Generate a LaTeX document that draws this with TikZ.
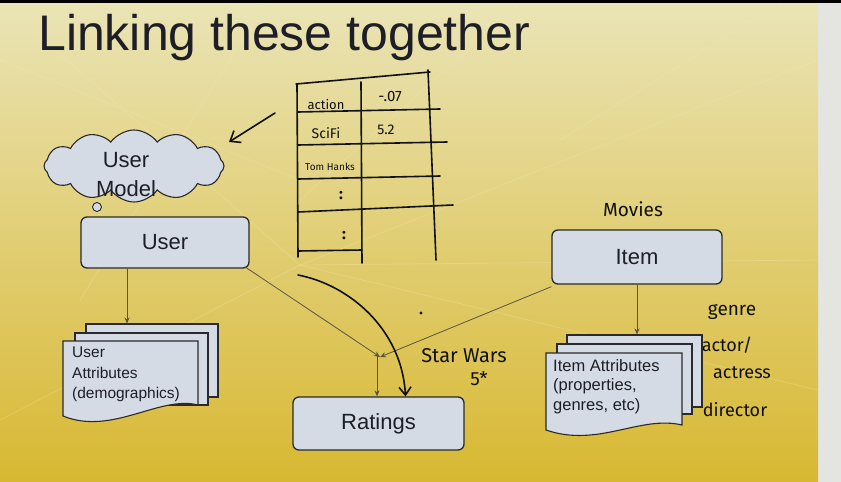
\documentclass[tikz,border=0pt]{standalone}
\usepackage{fontspec}
\setmainfont{Liberation Sans}
\newfontfamily\hand{Fira Sans}
\usetikzlibrary{shapes.symbols,arrows.meta}
\definecolor{boxfill}{HTML}{D5DBE5}
\definecolor{boxline}{HTML}{2A2A2A}
\definecolor{ink}{HTML}{1E1E26}
\definecolor{pen}{HTML}{101010}
\definecolor{conn}{HTML}{5A5540}
\definecolor{bgtop}{HTML}{EAE4B6}
\definecolor{bgmid}{HTML}{E2CD5E}
\definecolor{bgbot}{HTML}{D8B832}
\definecolor{edge}{HTML}{E4E4E0}
\definecolor{glare}{HTML}{F2EBB8}
\tikzset{
  rbox/.style={draw=boxline, line width=1.3pt, fill=boxfill, rounded corners=6pt, text=ink, font=\fontsize{22}{26}\selectfont},
  docback/.style={draw=boxline, line width=1.1pt, fill=boxfill},
  doctext/.style={text=ink, align=left, inner sep=0pt},
  conn/.style={draw=conn, line width=0.8pt, -{Stealth[length=6pt,width=5pt]}},
  penline/.style={draw=pen, line width=1.6pt, line cap=round, line join=round},
  handtext/.style={text=pen, inner sep=0pt, font=\hand},
  glareline/.style={draw=glare, line width=0.7pt, opacity=0.3}
}
\begin{document}
\begin{tikzpicture}[x=1pt,y=-1pt]
\useasboundingbox (0,0) rectangle (841,482);
% background
\fill[edge] (0,0) rectangle (841,482);
\shade[top color=bgtop, middle color=bgmid, bottom color=bgbot] (0,3) rectangle (818,482);
\fill[black] (0,0) rectangle (841,3);
% faint projector lines
\draw[glareline] (10,10) -- (300,265);
\draw[glareline] (0,60) -- (300,180);
\draw[glareline] (265,3) -- (80,300);
\draw[glareline] (520,3) -- (300,200);
\draw[glareline] (300,265) -- (818,60);
\draw[glareline] (300,265) -- (818,260);
\draw[glareline] (0,420) -- (300,265);
\draw[glareline] (300,265) -- (818,390);
\draw[glareline] (780,3) -- (560,140);
% title
\node[anchor=base west, inner sep=0pt, text=ink, font=\fontsize{50}{56}\selectfont] (title) at (38,50) {Linking these together};
% cloud
\node[cloud, cloud puffs=12, cloud puff arc=110, aspect=2.4, draw=boxline, line width=1.1pt, fill=boxfill, minimum width=180pt, minimum height=72pt, inner sep=0pt] (cloud) at (134,166) {};
\node[circle, draw=boxline, line width=0.9pt, fill=boxfill, minimum size=9pt, inner sep=0pt] (bub) at (97,207) {};
\node[doctext, align=center, font=\fontsize{22}{29}\selectfont] (cloudtext) at (126,175) {User\\Model};
% boxes
\node[rbox, minimum width=168pt, minimum height=51pt] (user) at (165,242.5) {User};
\node[rbox, minimum width=170pt, minimum height=54pt] (item) at (637,257) {Item};
\node[rbox, minimum width=171pt, minimum height=53pt] (ratings) at (378.5,423.5) {Ratings};
% user attribute stack
\node[docback, minimum width=132pt, minimum height=73pt, inner sep=0pt] (ua3) at (152,360.5) {};
\node[docback, minimum width=133pt, minimum height=72pt, inner sep=0pt] (ua2) at (141.5,369) {};
\draw[docback] (63,341) -- (198,341) -- (198,405) .. controls (160,395) and (112,436) .. (63,416) -- cycle;
\node[doctext, anchor=north west, font=\fontsize{15.5}{20.5}\selectfont] (uatext) at (72,347) {User\\Attributes\\(demographics)};
% item attribute stack
\node[docback, minimum width=135pt, minimum height=72pt, inner sep=0pt] (ia3) at (634.5,371) {};
\node[docback, minimum width=135pt, minimum height=70pt, inner sep=0pt] (ia2) at (624.5,379) {};
\draw[docback] (546,353) -- (682,353) -- (682,425) .. controls (640,415) and (598,448) .. (546,430) -- cycle;
\node[doctext, anchor=north west, font=\fontsize{16.5}{19.5}\selectfont] (iatext) at (553,359) {Item Attributes\\(properties,\\genres, etc)};
% connectors
\coordinate (ux) at (127,0);
\draw[conn] (user.south -| ux) -- (ua3.north -| ux);
\draw[conn] (item.south) -- (ia3.north -| item.south);
\coordinate (j) at (380,357);
\draw[conn] ([xshift=-5pt,yshift=2pt]user.south east) -- (j);
\draw[conn] ([yshift=-2pt]item.south west) -- (j);
\draw[conn] ([xshift=-3pt,yshift=4pt]j) -- ([xshift=-3pt]j |- ratings.north);
% handwritten table
\draw[penline] (297,84) -- (298,257);
\draw[penline] (361,82) -- (362,263);
\draw[penline] (296,84) -- (430,72);
\draw[penline] (428,70) -- (436,260);
\draw[penline] (298,112) -- (440,109);
\draw[penline] (298,145) -- (447,142);
\draw[penline] (298,179) -- (440,176);
\draw[penline] (298,212) -- (453,205);
\draw[penline] (298,251) -- (362,250);
\node[handtext, font=\hand\fontsize{13}{14}\selectfont] (t1) at (326,105) {action};
\node[handtext, font=\hand\fontsize{15}{16}\selectfont] (t2) at (390,96) {-.07};
\node[handtext, font=\hand\fontsize{14}{15}\selectfont] (t3) at (326,133) {SciFi};
\node[handtext, font=\hand\fontsize{14}{15}\selectfont] (t4) at (386,130) {5.2};
\node[handtext, font=\hand\fontsize{10}{11}\selectfont] (t5) at (330,167) {Tom Hanks};
\node[handtext, font=\hand\bfseries\fontsize{16}{16}\selectfont] (t6) at (341,196) {:};
\node[handtext, font=\hand\bfseries\fontsize{16}{16}\selectfont] (t7) at (344,236) {:};
% handwritten arrow to cloud
\coordinate (ha1) at (275,113);
\coordinate (ha2) at (229,142);
\draw[penline, -{Straight Barb[length=9pt,width=14pt]}] (ha1) -- (ha2);
% handwritten curved arrow
\coordinate (ca) at (298,275);
\draw[penline, -{Straight Barb[length=8pt,width=12pt]}] (ca) .. controls (350,285) and (402,330) .. ([xshift=27pt]ratings.north);
% dot
\fill[pen] (421,313) circle (1.6pt);
% handwritten labels
\node[handtext, font=\hand\fontsize{20}{22}\selectfont] (sw) at (464,356) {Star Wars};
\node[handtext, font=\hand\fontsize{19}{20}\selectfont] (sw5) at (479,379) {5*};
\node[handtext, font=\hand\fontsize{19}{20}\selectfont] (mov) at (633,209) {Movies};
\node[handtext, font=\hand\fontsize{19}{20}\selectfont] (g1) at (732,312) {genre};
\node[handtext, font=\hand\fontsize{18}{20}\selectfont] (g2) at (727,345) {actor/};
\node[handtext, font=\hand\fontsize{18}{20}\selectfont] (g3) at (742,373) {actress};
\node[handtext, font=\hand\fontsize{18}{20}\selectfont] (g4) at (735,410) {director};
\end{tikzpicture}
\end{document}
